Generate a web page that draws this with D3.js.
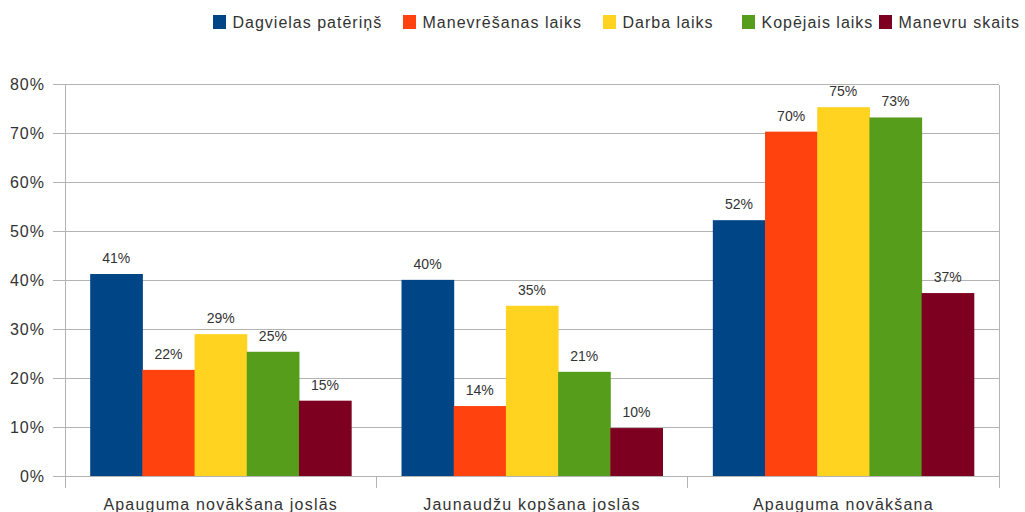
<!DOCTYPE html>
<html><head><meta charset="utf-8">
<script src="https://cdn.jsdelivr.net/npm/d3@7"></script>
<style>
body{margin:0;background:#fff;}
text{font-family:"Liberation Sans",Arial,sans-serif;fill:#333;}
</style></head>
<body><svg id="c" width="1025" height="512"></svg>
<script>
const categories = ["Apauguma novākšana joslās","Jaunaudžu kopšana joslās","Apauguma novākšana"];
const seriesNames = ["Dagvielas patēriņš","Manevrēšanas laiks","Darba laiks","Kopējais laiks","Manevru skaits"];
const seriesColors = ["#004586","#ff420e","#ffd320","#579d1c","#7e0021"];
const dagvielas = [0.413,0.401,0.523];
const manevresanas = [0.217,0.143,0.704];
const darba = [0.290,0.348,0.754];
const kopejais = [0.254,0.213,0.733];
const manevruSkaits = [0.154,0.098,0.374];
const yTicks = [0,0.1,0.2,0.3,0.4,0.5,0.6,0.7,0.8];
const legendX = [213,403,603,742,879];

const values = [dagvielas,manevresanas,darba,kopejais,manevruSkaits];
const svg = d3.select("#c");
const L=65,R=999,T=84.7,B=476;
const y = d3.scaleLinear().domain([0,0.8]).range([B,T]);
const x0 = d3.scaleBand().domain(categories).range([L,R]).paddingInner(0.1617).paddingOuter(0.0809);
const x1 = d3.scaleBand().domain(seriesNames).range([0,x0.bandwidth()]);
const grid="#b3b3b3";

// gridlines
svg.append("g").selectAll("line").data(yTicks).join("line")
 .attr("x1",53).attr("x2",R).attr("y1",d=>y(d)).attr("y2",d=>y(d))
 .attr("stroke",grid).attr("stroke-width",1).attr("shape-rendering","crispEdges");
// y labels
svg.append("g").selectAll("text").data(yTicks).join("text")
 .attr("x",45).attr("y",d=>y(d)).attr("dy","0.35em").attr("text-anchor","end")
 .style("font-size","16px").style("letter-spacing","1px")
 .text(d=>d3.format(".0%")(d));
// vertical axis lines
svg.append("line").attr("x1",L).attr("x2",L).attr("y1",T).attr("y2",488).attr("stroke",grid).attr("shape-rendering","crispEdges");
svg.append("line").attr("x1",R).attr("x2",R).attr("y1",T).attr("y2",488).attr("stroke",grid).attr("shape-rendering","crispEdges");
// category ticks
const bounds=[L,...categories.slice(1).map(c=>x0(c)-x0.step()*x0.paddingInner()/2)];
svg.append("g").selectAll("line").data(bounds).join("line")
 .attr("x1",d=>d).attr("x2",d=>d).attr("y1",B).attr("y2",488).attr("stroke",grid).attr("shape-rendering","crispEdges");

// bars
const g = svg.append("g");
categories.forEach((c,ci)=>{
  seriesNames.forEach((s,si)=>{
    const v=values[si][ci];
    g.append("rect").attr("x",x0(c)+x1(s)).attr("width",x1.bandwidth()+0.5)
     .attr("y",y(v)).attr("height",B-y(v)).attr("fill",seriesColors[si]);
    g.append("text").attr("x",x0(c)+x1(s)+x1.bandwidth()/2).attr("y",y(v)-11)
     .attr("text-anchor","middle").style("font-size","14px")
     .text(Math.round(v*100)+"%");
  });
});
// category labels
svg.append("g").selectAll("text").data(categories).join("text")
 .attr("x",d=>x0(d)+x0.bandwidth()/2).attr("y",509.5).attr("text-anchor","middle")
 .style("font-size","16px").style("letter-spacing","1.2px").text(d=>d);

// legend
const lg=svg.append("g");
seriesNames.forEach((s,i)=>{
  lg.append("rect").attr("x",legendX[i]).attr("y",15).attr("width",13).attr("height",14).attr("fill",seriesColors[i]);
  lg.append("text").attr("x",legendX[i]+19.5).attr("y",28).style("font-size","16px").style("letter-spacing","1px").text(s);
});
</script></body></html>
